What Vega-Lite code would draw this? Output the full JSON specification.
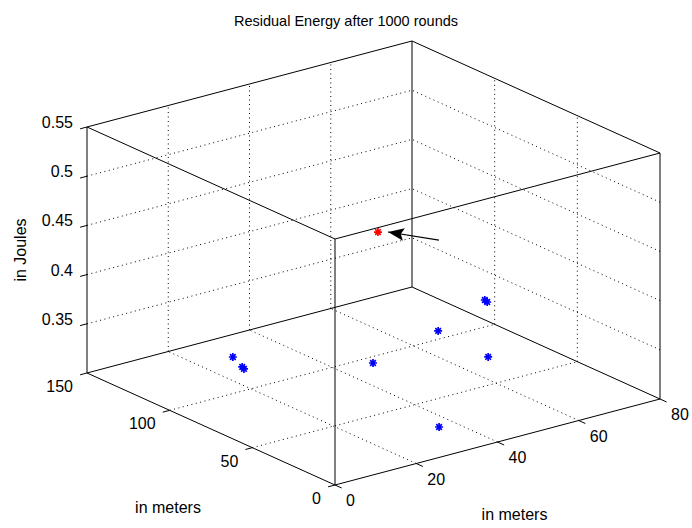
{
  "$schema": "https://vega.github.io/schema/vega-lite/v6.json",
  "width": 692,
  "height": 528,
  "autosize": "none",
  "padding": 0,
  "background": "white",
  "config": {
    "view": {"stroke": null},
    "text": {"font": "Liberation Sans", "fontSize": 16, "color": "black"}
  },
  "title": {
    "text": "Residual Energy after 1000 rounds",
    "anchor": "middle",
    "frame": "group",
    "font": "Liberation Sans",
    "fontSize": 14.5,
    "fontWeight": "normal",
    "color": "black",
    "baseline": "alphabetic",
    "offset": -40
  },
  "datasets": {
    "segments": [
      {"kind": "edge", "x": 0, "y": 0, "z": 0.3, "x2": 0, "y2": 0, "z2": 0.55},
      {"kind": "edge", "x": 80, "y": 0, "z": 0.3, "x2": 80, "y2": 0, "z2": 0.55},
      {"kind": "edge", "x": 0, "y": 150, "z": 0.3, "x2": 0, "y2": 150, "z2": 0.55},
      {"kind": "edge", "x": 80, "y": 150, "z": 0.3, "x2": 80, "y2": 150, "z2": 0.55},
      {"kind": "edge", "x": 0, "y": 0, "z": 0.3, "x2": 80, "y2": 0, "z2": 0.3},
      {"kind": "edge", "x": 80, "y": 0, "z": 0.3, "x2": 80, "y2": 150, "z2": 0.3},
      {"kind": "edge", "x": 80, "y": 150, "z": 0.3, "x2": 0, "y2": 150, "z2": 0.3},
      {"kind": "edge", "x": 0, "y": 150, "z": 0.3, "x2": 0, "y2": 0, "z2": 0.3},
      {"kind": "edge", "x": 0, "y": 0, "z": 0.55, "x2": 80, "y2": 0, "z2": 0.55},
      {"kind": "edge", "x": 80, "y": 0, "z": 0.55, "x2": 80, "y2": 150, "z2": 0.55},
      {"kind": "edge", "x": 80, "y": 150, "z": 0.55, "x2": 0, "y2": 150, "z2": 0.55},
      {"kind": "edge", "x": 0, "y": 150, "z": 0.55, "x2": 0, "y2": 0, "z2": 0.55},
      {"kind": "grid", "x": 20, "y": 0, "z": 0.3, "x2": 20, "y2": 150, "z2": 0.3},
      {"kind": "grid", "x": 40, "y": 0, "z": 0.3, "x2": 40, "y2": 150, "z2": 0.3},
      {"kind": "grid", "x": 60, "y": 0, "z": 0.3, "x2": 60, "y2": 150, "z2": 0.3},
      {"kind": "grid", "x": 0, "y": 50, "z": 0.3, "x2": 80, "y2": 50, "z2": 0.3},
      {"kind": "grid", "x": 0, "y": 100, "z": 0.3, "x2": 80, "y2": 100, "z2": 0.3},
      {"kind": "grid", "x": 20, "y": 150, "z": 0.3, "x2": 20, "y2": 150, "z2": 0.55},
      {"kind": "grid", "x": 40, "y": 150, "z": 0.3, "x2": 40, "y2": 150, "z2": 0.55},
      {"kind": "grid", "x": 60, "y": 150, "z": 0.3, "x2": 60, "y2": 150, "z2": 0.55},
      {"kind": "grid", "x": 0, "y": 150, "z": 0.35, "x2": 80, "y2": 150, "z2": 0.35},
      {"kind": "grid", "x": 0, "y": 150, "z": 0.4, "x2": 80, "y2": 150, "z2": 0.4},
      {"kind": "grid", "x": 0, "y": 150, "z": 0.45, "x2": 80, "y2": 150, "z2": 0.45},
      {"kind": "grid", "x": 0, "y": 150, "z": 0.5, "x2": 80, "y2": 150, "z2": 0.5},
      {"kind": "grid", "x": 80, "y": 50, "z": 0.3, "x2": 80, "y2": 50, "z2": 0.55},
      {"kind": "grid", "x": 80, "y": 100, "z": 0.3, "x2": 80, "y2": 100, "z2": 0.55},
      {"kind": "grid", "x": 80, "y": 0, "z": 0.35, "x2": 80, "y2": 150, "z2": 0.35},
      {"kind": "grid", "x": 80, "y": 0, "z": 0.4, "x2": 80, "y2": 150, "z2": 0.4},
      {"kind": "grid", "x": 80, "y": 0, "z": 0.45, "x2": 80, "y2": 150, "z2": 0.45},
      {"kind": "grid", "x": 80, "y": 0, "z": 0.5, "x2": 80, "y2": 150, "z2": 0.5},
      {"kind": "tick", "x": 0, "y": 0, "z": 0.3, "x2": 0, "y2": -4, "z2": 0.3},
      {"kind": "tick", "x": 20, "y": 0, "z": 0.3, "x2": 20, "y2": -4, "z2": 0.3},
      {"kind": "tick", "x": 40, "y": 0, "z": 0.3, "x2": 40, "y2": -4, "z2": 0.3},
      {"kind": "tick", "x": 60, "y": 0, "z": 0.3, "x2": 60, "y2": -4, "z2": 0.3},
      {"kind": "tick", "x": 80, "y": 0, "z": 0.3, "x2": 80, "y2": -4, "z2": 0.3},
      {"kind": "tick", "x": 0, "y": 0, "z": 0.3, "x2": -1.7, "y2": 0, "z2": 0.3},
      {"kind": "tick", "x": 0, "y": 50, "z": 0.3, "x2": -1.7, "y2": 50, "z2": 0.3},
      {"kind": "tick", "x": 0, "y": 100, "z": 0.3, "x2": -1.7, "y2": 100, "z2": 0.3},
      {"kind": "tick", "x": 0, "y": 150, "z": 0.3, "x2": -1.7, "y2": 150, "z2": 0.3},
      {"kind": "tick", "x": 0, "y": 150, "z": 0.35, "x2": -1.7, "y2": 150, "z2": 0.35},
      {"kind": "tick", "x": 0, "y": 150, "z": 0.4, "x2": -1.7, "y2": 150, "z2": 0.4},
      {"kind": "tick", "x": 0, "y": 150, "z": 0.45, "x2": -1.7, "y2": 150, "z2": 0.45},
      {"kind": "tick", "x": 0, "y": 150, "z": 0.5, "x2": -1.7, "y2": 150, "z2": 0.5},
      {"kind": "tick", "x": 0, "y": 150, "z": 0.55, "x2": -1.7, "y2": 150, "z2": 0.55}
    ],
    "nodes": [
      {"x": 18.0, "y": 106.0, "z": 0.33, "group": "node"},
      {"x": 19.4, "y": 103.8, "z": 0.32, "group": "node"},
      {"x": 15.6, "y": 93.4, "z": 0.33, "group": "node"},
      {"x": 34.3, "y": 61.3, "z": 0.34, "group": "node"},
      {"x": 58.8, "y": 82.1, "z": 0.33, "group": "node"},
      {"x": 73.3, "y": 89.5, "z": 0.34, "group": "node"},
      {"x": 69.6, "y": 79.0, "z": 0.35, "group": "node"},
      {"x": 64.4, "y": 65.6, "z": 0.31, "group": "node"},
      {"x": 32.7, "y": 17.4, "z": 0.31, "group": "node"},
      {"x": 19.2, "y": 21.2, "z": 0.52, "group": "highest"}
    ],
    "arrow": [
      {"x": 25.9, "y": 0.8, "z": 0.52, "x2": 20.8, "y2": 19.0, "z2": 0.52}
    ],
    "ticklabels": [
      {"axis": "x", "x": 0, "y": 0, "z": 0.3, "label": "0"},
      {"axis": "x", "x": 20, "y": 0, "z": 0.3, "label": "20"},
      {"axis": "x", "x": 40, "y": 0, "z": 0.3, "label": "40"},
      {"axis": "x", "x": 60, "y": 0, "z": 0.3, "label": "60"},
      {"axis": "x", "x": 80, "y": 0, "z": 0.3, "label": "80"},
      {"axis": "y", "x": 0, "y": 0, "z": 0.3, "label": "0"},
      {"axis": "y", "x": 0, "y": 50, "z": 0.3, "label": "50"},
      {"axis": "y", "x": 0, "y": 100, "z": 0.3, "label": "100"},
      {"axis": "y", "x": 0, "y": 150, "z": 0.3, "label": "150"},
      {"axis": "z", "x": 0, "y": 150, "z": 0.35, "label": "0.35"},
      {"axis": "z", "x": 0, "y": 150, "z": 0.4, "label": "0.4"},
      {"axis": "z", "x": 0, "y": 150, "z": 0.45, "label": "0.45"},
      {"axis": "z", "x": 0, "y": 150, "z": 0.5, "label": "0.5"},
      {"axis": "z", "x": 0, "y": 150, "z": 0.55, "label": "0.55"}
    ],
    "axistitles": [
      {"axis": "x", "x": 40, "y": 0, "z": 0.3, "label": "in meters"},
      {"axis": "y", "x": 0, "y": 75, "z": 0.3, "label": "in meters"},
      {"axis": "z", "x": 0, "y": 150, "z": 0.425, "label": "in Joules"}
    ]
  },
  "layer": [
    {
      "data": {"name": "segments"},
      "transform": [
        {"filter": "datum.kind == 'grid'"},
        {"calculate": "335 + 4.0625*datum.x - 1.65333*datum.y", "as": "px"},
        {"calculate": "485 - 1.075*datum.x - 0.74667*datum.y - 984*(datum.z - 0.3)", "as": "py"},
        {"calculate": "335 + 4.0625*datum.x2 - 1.65333*datum.y2", "as": "px2"},
        {"calculate": "485 - 1.075*datum.x2 - 0.74667*datum.y2 - 984*(datum.z2 - 0.3)", "as": "py2"}
      ],
      "mark": {"type": "rule", "color": "black", "strokeWidth": 1, "strokeDash": [1, 3.5]},
      "encoding": {
        "x": {"field": "px", "type": "quantitative", "scale": {"domain": [0, 692], "range": [0, 692], "nice": false, "zero": false}, "axis": null},
        "y": {"field": "py", "type": "quantitative", "scale": {"domain": [0, 528], "range": [0, 528], "nice": false, "zero": false}, "axis": null},
        "x2": {"field": "px2"},
        "y2": {"field": "py2"}
      }
    },
    {
      "data": {"name": "segments"},
      "transform": [
        {"filter": "datum.kind != 'grid'"},
        {"calculate": "335 + 4.0625*datum.x - 1.65333*datum.y", "as": "px"},
        {"calculate": "485 - 1.075*datum.x - 0.74667*datum.y - 984*(datum.z - 0.3)", "as": "py"},
        {"calculate": "335 + 4.0625*datum.x2 - 1.65333*datum.y2", "as": "px2"},
        {"calculate": "485 - 1.075*datum.x2 - 0.74667*datum.y2 - 984*(datum.z2 - 0.3)", "as": "py2"}
      ],
      "mark": {"type": "rule", "color": "black", "strokeWidth": 1},
      "encoding": {
        "x": {"field": "px", "type": "quantitative", "scale": {"domain": [0, 692], "range": [0, 692], "nice": false, "zero": false}, "axis": null},
        "y": {"field": "py", "type": "quantitative", "scale": {"domain": [0, 528], "range": [0, 528], "nice": false, "zero": false}, "axis": null},
        "x2": {"field": "px2"},
        "y2": {"field": "py2"}
      }
    },
    {
      "data": {"name": "arrow"},
      "transform": [
        {"calculate": "335 + 4.0625*datum.x - 1.65333*datum.y", "as": "px"},
        {"calculate": "485 - 1.075*datum.x - 0.74667*datum.y - 984*(datum.z - 0.3)", "as": "py"},
        {"calculate": "335 + 4.0625*datum.x2 - 1.65333*datum.y2", "as": "px2"},
        {"calculate": "485 - 1.075*datum.x2 - 0.74667*datum.y2 - 984*(datum.z2 - 0.3)", "as": "py2"}
      ],
      "mark": {"type": "rule", "color": "black", "strokeWidth": 1.2},
      "encoding": {
        "x": {"field": "px", "type": "quantitative", "scale": {"domain": [0, 692], "range": [0, 692], "nice": false, "zero": false}, "axis": null},
        "y": {"field": "py", "type": "quantitative", "scale": {"domain": [0, 528], "range": [0, 528], "nice": false, "zero": false}, "axis": null},
        "x2": {"field": "px2"},
        "y2": {"field": "py2"}
      }
    },
    {
      "data": {"name": "arrow"},
      "transform": [
        {"calculate": "335 + 4.0625*datum.x2 - 1.65333*datum.y2", "as": "hx"},
        {"calculate": "485 - 1.075*datum.x2 - 0.74667*datum.y2 - 984*(datum.z2 - 0.3)", "as": "hy"}
      ],
      "mark": {"type": "point", "shape": "M 0 0 L 2 -0.8 L 1.6 0 L 2 0.8 Z", "size": 256, "filled": true, "color": "black", "opacity": 1, "angle": 9, "strokeWidth": 0},
      "encoding": {
        "x": {"field": "hx", "type": "quantitative", "scale": {"domain": [0, 692], "range": [0, 692], "nice": false, "zero": false}, "axis": null},
        "y": {"field": "hy", "type": "quantitative", "scale": {"domain": [0, 528], "range": [0, 528], "nice": false, "zero": false}, "axis": null}
      }
    },
    {
      "data": {"name": "nodes"},
      "transform": [
        {"calculate": "335 + 4.0625*datum.x - 1.65333*datum.y", "as": "px"},
        {"calculate": "485 - 1.075*datum.x - 0.74667*datum.y - 984*(datum.z - 0.3)", "as": "py"}
      ],
      "mark": {"type": "point", "shape": "M -1 0 L 1 0 M 0 -1 L 0 1 M -0.7 -0.7 L 0.7 0.7 M -0.7 0.7 L 0.7 -0.7", "size": 64, "filled": false, "strokeWidth": 1.7, "opacity": 1},
      "encoding": {
        "x": {"field": "px", "type": "quantitative", "scale": {"domain": [0, 692], "range": [0, 692], "nice": false, "zero": false}, "axis": null},
        "y": {"field": "py", "type": "quantitative", "scale": {"domain": [0, 528], "range": [0, 528], "nice": false, "zero": false}, "axis": null},
        "color": {"field": "group", "type": "nominal", "scale": {"domain": ["node", "highest"], "range": ["#0000ff", "#ff0000"]}, "legend": null}
      }
    },
    {
      "data": {"name": "ticklabels"},
      "transform": [
        {"filter": "datum.axis == 'x'"},
        {"calculate": "335 + 4.0625*datum.x - 1.65333*datum.y", "as": "px"},
        {"calculate": "485 - 1.075*datum.x - 0.74667*datum.y - 984*(datum.z - 0.3)", "as": "py"}
      ],
      "mark": {"type": "text", "align": "left", "baseline": "middle", "dx": 11, "dy": 16},
      "encoding": {
        "x": {"field": "px", "type": "quantitative", "scale": {"domain": [0, 692], "range": [0, 692], "nice": false, "zero": false}, "axis": null},
        "y": {"field": "py", "type": "quantitative", "scale": {"domain": [0, 528], "range": [0, 528], "nice": false, "zero": false}, "axis": null},
        "text": {"field": "label"}
      }
    },
    {
      "data": {"name": "ticklabels"},
      "transform": [
        {"filter": "datum.axis == 'y'"},
        {"calculate": "335 + 4.0625*datum.x - 1.65333*datum.y", "as": "px"},
        {"calculate": "485 - 1.075*datum.x - 0.74667*datum.y - 984*(datum.z - 0.3)", "as": "py"}
      ],
      "mark": {"type": "text", "align": "right", "baseline": "middle", "dx": -14, "dy": 14},
      "encoding": {
        "x": {"field": "px", "type": "quantitative", "scale": {"domain": [0, 692], "range": [0, 692], "nice": false, "zero": false}, "axis": null},
        "y": {"field": "py", "type": "quantitative", "scale": {"domain": [0, 528], "range": [0, 528], "nice": false, "zero": false}, "axis": null},
        "text": {"field": "label"}
      }
    },
    {
      "data": {"name": "ticklabels"},
      "transform": [
        {"filter": "datum.axis == 'z'"},
        {"calculate": "335 + 4.0625*datum.x - 1.65333*datum.y", "as": "px"},
        {"calculate": "485 - 1.075*datum.x - 0.74667*datum.y - 984*(datum.z - 0.3)", "as": "py"}
      ],
      "mark": {"type": "text", "align": "right", "baseline": "middle", "dx": -14, "dy": -4},
      "encoding": {
        "x": {"field": "px", "type": "quantitative", "scale": {"domain": [0, 692], "range": [0, 692], "nice": false, "zero": false}, "axis": null},
        "y": {"field": "py", "type": "quantitative", "scale": {"domain": [0, 528], "range": [0, 528], "nice": false, "zero": false}, "axis": null},
        "text": {"field": "label"}
      }
    },
    {
      "data": {"name": "axistitles"},
      "transform": [
        {"filter": "datum.axis == 'x'"},
        {"calculate": "335 + 4.0625*datum.x - 1.65333*datum.y", "as": "px"},
        {"calculate": "485 - 1.075*datum.x - 0.74667*datum.y - 984*(datum.z - 0.3)", "as": "py"}
      ],
      "mark": {"type": "text", "align": "center", "baseline": "middle", "dx": 17, "dy": 73},
      "encoding": {
        "x": {"field": "px", "type": "quantitative", "scale": {"domain": [0, 692], "range": [0, 692], "nice": false, "zero": false}, "axis": null},
        "y": {"field": "py", "type": "quantitative", "scale": {"domain": [0, 528], "range": [0, 528], "nice": false, "zero": false}, "axis": null},
        "text": {"field": "label"}
      }
    },
    {
      "data": {"name": "axistitles"},
      "transform": [
        {"filter": "datum.axis == 'y'"},
        {"calculate": "335 + 4.0625*datum.x - 1.65333*datum.y", "as": "px"},
        {"calculate": "485 - 1.075*datum.x - 0.74667*datum.y - 984*(datum.z - 0.3)", "as": "py"}
      ],
      "mark": {"type": "text", "align": "center", "baseline": "middle", "dx": -43, "dy": 79},
      "encoding": {
        "x": {"field": "px", "type": "quantitative", "scale": {"domain": [0, 692], "range": [0, 692], "nice": false, "zero": false}, "axis": null},
        "y": {"field": "py", "type": "quantitative", "scale": {"domain": [0, 528], "range": [0, 528], "nice": false, "zero": false}, "axis": null},
        "text": {"field": "label"}
      }
    },
    {
      "data": {"name": "axistitles"},
      "transform": [
        {"filter": "datum.axis == 'z'"},
        {"calculate": "335 + 4.0625*datum.x - 1.65333*datum.y", "as": "px"},
        {"calculate": "485 - 1.075*datum.x - 0.74667*datum.y - 984*(datum.z - 0.3)", "as": "py"}
      ],
      "mark": {"type": "text", "align": "center", "baseline": "middle", "angle": 270, "dx": 0, "dy": -66},
      "encoding": {
        "x": {"field": "px", "type": "quantitative", "scale": {"domain": [0, 692], "range": [0, 692], "nice": false, "zero": false}, "axis": null},
        "y": {"field": "py", "type": "quantitative", "scale": {"domain": [0, 528], "range": [0, 528], "nice": false, "zero": false}, "axis": null},
        "text": {"field": "label"}
      }
    }
  ]
}
